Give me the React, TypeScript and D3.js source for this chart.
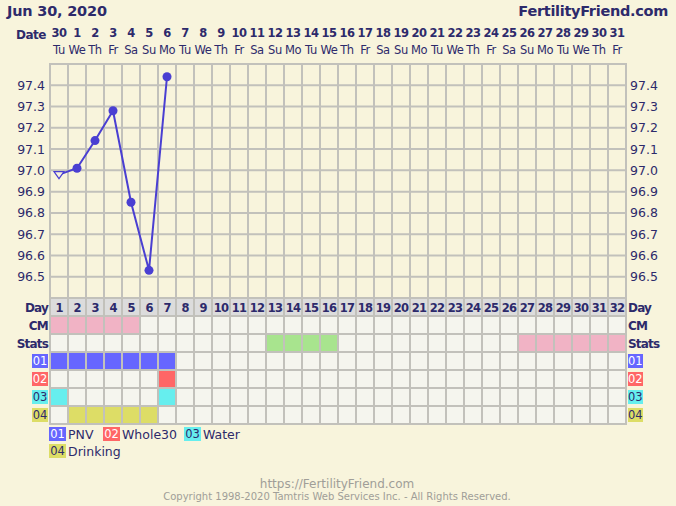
import React from "react";
import * as d3 from "d3";

const dates = [30, 1, 2, 3, 4, 5, 6, 7, 8, 9, 10, 11, 12, 13, 14, 15, 16, 17, 18, 19, 20, 21, 22, 23, 24, 25, 26, 27, 28, 29, 30, 31];
const weekdays = ["Tu", "We", "Th", "Fr", "Sa", "Su", "Mo"];
const cycleDays = d3.range(1, 33);
const temps = [96.98, 97.01, 97.14, 97.28, 96.85, 96.53, 97.44];
const openTempIdx = [0];
const yTicks = [97.4, 97.3, 97.2, 97.1, 97.0, 96.9, 96.8, 96.7, 96.6, 96.5];
const cmDays = [1, 2, 3, 4, 5];
const statsGreen = [13, 14, 15, 16];
const statsPink = [27, 28, 29, 30, 31, 32];
const row01 = [1, 2, 3, 4, 5, 6, 7];
const row02 = [7];
const row03 = [1, 7];
const row04 = [2, 3, 4, 5, 6];
const legendItems = [
  { code: "01", label: "PNV" },
  { code: "02", label: "Whole30" },
  { code: "03", label: "Water" },
  { code: "04", label: "Drinking" },
];

const BG = "#f8f4dc";
const CELL = "#f5f5ee";
const GRID = "#c2c1bb";
const TXT = "#2d2a6b";
const FONT = "'DejaVu Sans', Verdana, sans-serif";
const badgeColor: Record<string, string> = { "01": "#6666ff", "02": "#ff6666", "03": "#66eeee", "04": "#dddd66" };
const badgeText: Record<string, string> = { "01": "#ffffff", "02": "#ffffff", "03": "#2d2a6b", "04": "#2d2a6b" };

export default function App() {
  const W = 676, H = 506;
  const left = 50, colW = 18, n = 32;
  const right = left + n * colW;
  const top = 64, chartBottom = 298;
  const x = d3.scaleLinear().domain([0, n]).range([left, right]);
  const y = d3.scaleLinear().domain([96.4, 97.5]).range([chartBottom, top]);
  const rowH = 18;
  const rows = ["Day", "CM", "Stats", "01", "02", "03", "04"];
  const rowY = (i: number) => chartBottom + i * rowH;
  const tableBottom = rowY(rows.length);

  const line = d3.line<number>().x((_, i) => x(i + 0.5)).y((d) => y(d));

  const fillFor = (r: string, day: number): string => {
    if (r === "Day") return "#dcdcdc";
    if (r === "CM" && cmDays.includes(day)) return "#f1b3c5";
    if (r === "Stats" && statsGreen.includes(day)) return "#a8e48e";
    if (r === "Stats" && statsPink.includes(day)) return "#f1b3c5";
    if (r === "01" && row01.includes(day)) return badgeColor["01"];
    if (r === "02" && row02.includes(day)) return badgeColor["02"];
    if (r === "03" && row03.includes(day)) return badgeColor["03"];
    if (r === "04" && row04.includes(day)) return badgeColor["04"];
    return CELL;
  };

  return (
    <svg width={W} height={H} style={{ position: "absolute", left: 0, top: 0, background: BG, fontFamily: FONT }}>
      <rect x={0} y={0} width={W} height={H} fill={BG} />
      <text x={7} y={16} fontSize={14.5} fontWeight="bold" fill={TXT} letterSpacing={-0.2}>Jun 30, 2020</text>
      <text x={668} y={16} fontSize={14.5} fontWeight="bold" fill={TXT} textAnchor="end" letterSpacing={-0.3}>FertilityFriend.com</text>
      <text x={46} y={39} fontSize={12} fontWeight="bold" fill={TXT} textAnchor="end" letterSpacing={-0.5}>Date</text>
      {dates.map((d, i) => (
        <text key={"d" + i} x={x(i + 0.5)} y={37} fontSize={11.5} fontWeight="bold" fill={TXT} textAnchor="middle" letterSpacing={-0.5}>{d}</text>
      ))}
      {dates.map((_, i) => (
        <text key={"w" + i} x={x(i + 0.5)} y={54} fontSize={11.5} fill={TXT} textAnchor="middle" letterSpacing={-0.4}>{weekdays[i % 7]}</text>
      ))}

      {/* table cells */}
      {rows.map((r, ri) =>
        cycleDays.map((day, ci) => (
          <rect key={r + day} x={x(ci)} y={rowY(ri)} width={colW} height={rowH} fill={fillFor(r, day)} />
        ))
      )}
      {cycleDays.map((day, ci) => (
        <text key={"cd" + day} x={x(ci + 0.5)} y={rowY(0) + 13.5} fontSize={11.5} fontWeight="bold" fill={TXT} textAnchor="middle" letterSpacing={-0.8}>{day}</text>
      ))}

      {/* grid */}
      {yTicks.map((t) => (
        <line key={"h" + t} x1={left} x2={right} y1={y(t)} y2={y(t)} stroke={GRID} strokeWidth={2} />
      ))}
      <line x1={left} x2={right} y1={top} y2={top} stroke={GRID} strokeWidth={2} />
      {d3.range(1, rows.length + 1).map((i) => (
        <line key={"rh" + i} x1={left} x2={right} y1={rowY(i)} y2={rowY(i)} stroke={GRID} strokeWidth={2} />
      ))}
      <line x1={left} x2={right} y1={rowY(0)} y2={rowY(0)} stroke={GRID} strokeWidth={2} />
      {d3.range(0, n + 1).map((i) => (
        <line key={"v" + i} x1={x(i)} x2={x(i)} y1={top - 1} y2={tableBottom + 1} stroke={GRID} strokeWidth={2} />
      ))}

      {/* y axis labels */}
      {yTicks.map((t) => (
        <text key={"yl" + t} x={45} y={y(t) + 4.5} fontSize={12.5} fill={TXT} textAnchor="end">{t.toFixed(1)}</text>
      ))}
      {yTicks.map((t) => (
        <text key={"yr" + t} x={630} y={y(t) + 4.5} fontSize={12.5} fill={TXT}>{t.toFixed(1)}</text>
      ))}

      {/* temperature line */}
      <path d={line(temps) || ""} fill="none" stroke="#4a3fd2" strokeWidth={2} />
      {temps.map((t, i) =>
        openTempIdx.includes(i) ? (
          <path key={"p" + i} d={`M${x(i + 0.5) - 5},${y(t) - 3} L${x(i + 0.5) + 5},${y(t) - 3} L${x(i + 0.5)},${y(t) + 4} Z`} fill={BG} stroke="#4a3fd2" strokeWidth={1.2} />
        ) : (
          <circle key={"p" + i} cx={x(i + 0.5)} cy={y(t)} r={4.5} fill="#4a3fd2" />
        )
      )}

      {/* row labels */}
      {["Day", "CM", "Stats"].map((r, ri) => (
        <g key={"rl" + r}>
          <text x={48} y={rowY(ri) + 13.5} fontSize={12} fontWeight="bold" fill={TXT} textAnchor="end" letterSpacing={-0.8}>{r}</text>
          <text x={628} y={rowY(ri) + 13.5} fontSize={12} fontWeight="bold" fill={TXT} letterSpacing={-0.8}>{r}</text>
        </g>
      ))}
      {["01", "02", "03", "04"].map((c, k) => {
        const ri = k + 3;
        return (
          <g key={"b" + c}>
            <rect x={32} y={rowY(ri) + 2} width={16} height={14} fill={badgeColor[c]} />
            <text x={40} y={rowY(ri) + 13} fontSize={11.5} fill={badgeText[c]} textAnchor="middle">{c}</text>
            <rect x={628} y={rowY(ri) + 2} width={15} height={14} fill={badgeColor[c]} />
            <text x={628} y={rowY(ri) + 13} fontSize={11.5} fill={badgeText[c]}>{c}</text>
          </g>
        );
      })}

      {/* legend */}
      {legendItems.map((it, k) => {
        const pos = [
          { bx: 49, by: 427 },
          { bx: 103, by: 427 },
          { bx: 184, by: 427 },
          { bx: 49, by: 444 },
        ][k];
        return (
          <g key={"lg" + it.code}>
            <rect x={pos.bx} y={pos.by} width={17} height={14} fill={badgeColor[it.code]} />
            <text x={pos.bx + 8.5} y={pos.by + 11} fontSize={11.5} fill={badgeText[it.code]} textAnchor="middle">{it.code}</text>
            <text x={pos.bx + 19} y={pos.by + 11.5} fontSize={12.5} fill={TXT}>{it.label}</text>
          </g>
        );
      })}

      {/* footer */}
      <text x={337} y={488} fontSize={12} fill="#a09e98" textAnchor="middle">https://FertilityFriend.com</text>
      <text x={337} y={500} fontSize={10} fill="#a09e98" textAnchor="middle">Copyright 1998-2020 Tamtris Web Services Inc. - All Rights Reserved.</text>
    </svg>
  );
}
